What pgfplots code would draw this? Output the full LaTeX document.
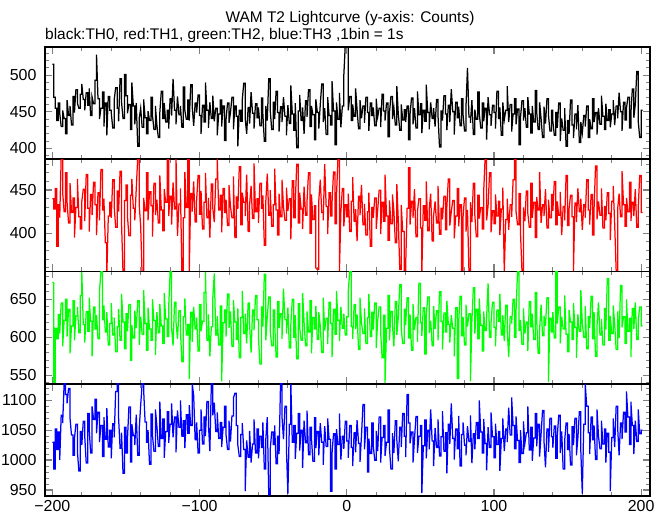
\documentclass[border=0pt]{standalone}
\usepackage{fontspec}
\setmainfont{Liberation Sans}
\usepackage{pgfplots}
\pgfplotsset{compat=1.18}
\usepackage{pgfplotstable}

\pgfplotstableread[row sep=\\]{y\\
515\\470\\455\\438\\462\\448\\430\\452\\441\\420\\466\\445\\458\\432\\471\\449\\480\\462\\455\\474\\
488\\467\\452\\476\\459\\482\\445\\470\\461\\493\\528\\468\\440\\455\\477\\430\\462\\418\\471\\452\\
449\\428\\466\\483\\455\\437\\495\\463\\441\\501\\472\\448\\460\\426\\490\\458\\433\\462\\403\\441\\
455\\429\\467\\442\\420\\451\\438\\470\\445\\426\\458\\432\\415\\449\\478\\441\\462\\436\\452\\427\\
468\\445\\495\\452\\433\\471\\446\\458\\429\\484\\452\\440\\466\\438\\487\\457\\431\\462\\449\\473\\
445\\420\\459\\436\\490\\452\\428\\463\\441\\472\\437\\455\\418\\447\\466\\430\\458\\411\\440\\462\\
435\\449\\470\\426\\458\\444\\403\\452\\437\\466\\489\\441\\420\\456\\434\\477\\448\\427\\461\\442\\
456\\431\\469\\447\\410\\458\\438\\495\\452\\426\\463\\440\\478\\449\\423\\457\\436\\470\\444\\418\\
459\\434\\486\\447\\425\\462\\401\\451\\473\\438\\456\\420\\465\\443\\480\\430\\458\\446\\412\\467\\
449\\427\\460\\488\\436\\455\\419\\470\\445\\432\\492\\451\\405\\463\\440\\476\\429\\458\\500\\542\\
548\\452\\471\\438\\460\\444\\482\\453\\427\\466\\441\\458\\435\\470\\449\\424\\462\\445\\456\\431\\
468\\443\\455\\429\\474\\451\\438\\462\\416\\449\\471\\440\\456\\432\\485\\447\\425\\460\\439\\453\\
436\\458\\412\\447\\469\\433\\455\\428\\478\\446\\461\\421\\452\\437\\487\\449\\426\\463\\441\\455\\
430\\467\\444\\402\\451\\438\\472\\447\\425\\459\\436\\481\\450\\419\\463\\442\\457\\431\\468\\446\\
424\\458\\510\\443\\435\\466\\419\\453\\440\\477\\448\\428\\462\\437\\455\\412\\470\\446\\431\\459\\
449\\427\\478\\441\\456\\418\\463\\439\\452\\485\\436\\460\\423\\447\\468\\433\\454\\405\\442\\465\\
438\\455\\429\\470\\447\\421\\458\\436\\479\\450\\426\\463\\441\\415\\457\\434\\468\\446\\424\\452\\
437\\418\\449\\428\\462\\410\\441\\425\\455\\403\\438\\420\\466\\432\\414\\447\\426\\459\\408\\436\\
421\\445\\430\\458\\415\\440\\427\\468\\436\\449\\419\\455\\433\\472\\444\\426\\461\\438\\453\\429\\
447\\466\\432\\458\\441\\476\\450\\424\\463\\439\\455\\470\\428\\448\\481\\442\\460\\505\\437\\415\\
452\\
}\thzero

\pgfplotstableread[row sep=\\]{y\\
440\\428\\452\\385\\433\\418\\488\\447\\425\\470\\436\\412\\458\\424\\441\\395\\430\\463\\419\\405\\
437\\451\\414\\468\\429\\402\\445\\421\\459\\433\\398\\447\\415\\474\\427\\440\\389\\352\\420\\436\\
418\\462\\431\\407\\449\\425\\472\\411\\354\\438\\456\\420\\397\\444\\463\\429\\415\\452\\488\\433\\
408\\350\\441\\426\\470\\415\\448\\432\\396\\458\\421\\439\\412\\467\\427\\403\\451\\436\\487\\420\\
443\\410\\459\\428\\488\\397\\434\\452\\353\\418\\471\\430\\488\\355\\446\\425\\460\\413\\438\\467\\
422\\449\\405\\436\\470\\418\\441\\395\\457\\429\\413\\463\\488\\427\\444\\401\\452\\424\\439\\409\\
456\\431\\418\\466\\395\\442\\428\\477\\410\\447\\436\\420\\468\\402\\433\\455\\417\\481\\425\\440\\
412\\458\\429\\444\\386\\437\\469\\421\\450\\408\\433\\475\\427\\398\\446\\419\\462\\431\\415\\453\\
426\\440\\393\\461\\418\\435\\480\\412\\447\\428\\405\\454\\421\\437\\470\\400\\445\\416\\432\\360\\
358\\438\\462\\424\\415\\480\\431\\399\\447\\420\\436\\471\\411\\443\\486\\355\\425\\452\\408\\433\\
419\\446\\402\\437\\465\\414\\428\\391\\443\\421\\456\\410\\434\\398\\425\\447\\385\\430\\418\\441\\
405\\427\\450\\399\\436\\414\\468\\420\\392\\438\\411\\445\\426\\389\\457\\415\\358\\433\\402\\356\\
362\\429\\476\\410\\437\\418\\451\\396\\425\\440\\406\\355\\432\\415\\460\\403\\428\\446\\391\\421\\
437\\412\\455\\399\\429\\416\\443\\404\\431\\463\\409\\425\\438\\394\\420\\452\\408\\433\\357\\419\\
441\\402\\427\\356\\436\\413\\458\\421\\396\\444\\417\\430\\405\\448\\488\\415\\432\\470\\401\\426\\
411\\445\\420\\437\\398\\428\\453\\355\\416\\440\\404\\433\\419\\462\\488\\425\\410\\446\\401\\357\\
430\\414\\449\\423\\407\\458\\418\\436\\395\\442\\427\\471\\412\\433\\420\\451\\406\\439\\418\\445\\
426\\460\\410\\437\\421\\448\\398\\431\\415\\467\\409\\428\\444\\419\\356\\435\\413\\452\\425\\440\\
404\\433\\418\\462\\427\\410\\445\\398\\429\\478\\416\\437\\421\\452\\406\\431\\415\\447\\423\\392\\
437\\455\\410\\357\\428\\446\\419\\472\\433\\408\\441\\425\\459\\414\\436\\420\\451\\407\\430\\467\\
424\\
}\thone

\pgfplotstableread[row sep=\\]{y\\
672\\540\\612\\598\\630\\605\\645\\588\\622\\650\\601\\637\\579\\615\\648\\596\\628\\640\\606\\655\\
686\\617\\593\\634\\608\\652\\621\\575\\640\\611\\629\\598\\660\\686\\623\\642\\607\\633\\590\\618\\
645\\603\\626\\581\\614\\637\\596\\657\\620\\585\\631\\608\\643\\570\\616\\599\\635\\612\\648\\590\\
627\\604\\662\\618\\583\\639\\611\\596\\650\\622\\577\\633\\606\\644\\615\\592\\658\\624\\601\\638\\
686\\612\\589\\646\\620\\598\\635\\609\\568\\627\\651\\603\\617\\545\\633\\594\\640\\611\\626\\582\\
643\\608\\621\\659\\686\\596\\630\\575\\614\\652\\684\\603\\628\\590\\641\\542\\619\\636\\601\\657\\
612\\634\\588\\649\\620\\597\\638\\573\\626\\661\\605\\631\\592\\645\\616\\580\\636\\609\\655\\623\\
600\\565\\640\\614\\683\\596\\627\\653\\608\\589\\636\\620\\574\\647\\612\\631\\598\\664\\623\\605\\
639\\586\\617\\650\\600\\629\\572\\644\\613\\596\\658\\620\\589\\634\\607\\648\\579\\626\\611\\641\\
597\\633\\615\\580\\652\\609\\625\\591\\646\\618\\574\\637\\604\\661\\622\\595\\640\\612\\631\\603\\
627\\660\\686\\614\\598\\643\\611\\630\\584\\652\\619\\605\\638\\592\\626\\657\\601\\633\\610\\645\\
586\\622\\640\\607\\573\\629\\540\\612\\655\\596\\634\\618\\588\\647\\603\\626\\669\\611\\592\\637\\
616\\652\\599\\630\\583\\644\\610\\626\\594\\671\\619\\602\\639\\578\\628\\653\\606\\622\\589\\641\\
611\\635\\596\\660\\621\\584\\632\\607\\648\\617\\593\\629\\612\\575\\639\\546\\620\\654\\602\\627\\
590\\643\\614\\631\\542\\622\\665\\605\\637\\598\\651\\616\\582\\634\\609\\626\\671\\600\\619\\646\\
613\\588\\636\\621\\657\\603\\629\\595\\642\\611\\574\\627\\618\\650\\600\\635\\686\\609\\623\\591\\
638\\605\\620\\582\\647\\614\\631\\597\\659\\623\\579\\610\\643\\602\\628\\615\\652\\541\\625\\607\\
633\\599\\686\\618\\640\\592\\627\\611\\655\\604\\581\\636\\620\\597\\645\\613\\573\\630\\608\\662\\
619\\600\\641\\585\\627\\612\\654\\598\\633\\575\\615\\646\\603\\624\\590\\638\\610\\677\\596\\628\\
605\\642\\617\\584\\634\\599\\668\\613\\627\\592\\650\\608\\625\\574\\638\\611\\646\\597\\622\\640\\
615\\
}\thtwo

\pgfplotstableread[row sep=\\]{y\\
1030\\985\\1052\\1018\\1047\\1000\\1075\\1062\\1128\\1110\\1095\\1120\\1070\\1042\\1008\\1036\\1060\\1015\\982\\1048\\
1025\\1065\\1040\\995\\1078\\1053\\1012\\1090\\1068\\1102\\1045\\1080\\1030\\1058\\1006\\1072\\1035\\1087\\1022\\1050\\
1003\\1061\\1038\\1115\\1128\\1070\\1020\\1046\\978\\1055\\1012\\1034\\1089\\997\\1060\\1041\\1025\\1076\\1008\\1052\\
1092\\1128\\1118\\1064\\1030\\1050\\993\\1077\\1042\\1015\\1085\\1057\\1023\\1098\\1036\\1069\\1004\\1048\\1081\\1029\\
1060\\1095\\1038\\1072\\1013\\1083\\1055\\1100\\1040\\1066\\1020\\1076\\1045\\1092\\1058\\1128\\1108\\1034\\1063\\1012\\
1050\\1085\\1027\\1072\\1040\\1098\\1061\\1015\\1128\\1075\\1096\\1048\\1080\\1036\\1063\\1022\\1055\\1090\\1042\\1018\\
1066\\1031\\1074\\1104\\1112\\1058\\1025\\1006\\1043\\1062\\1018\\948\\1033\\1005\\1049\\996\\1027\\1068\\1012\\1052\\
1003\\1040\\1021\\1063\\985\\1035\\1072\\942\\1018\\1047\\1026\\1058\\994\\1040\\1010\\1128\\1072\\1035\\1090\\1020\\
944\\1060\\1128\\1030\\1058\\1002\\1045\\1078\\1016\\1050\\987\\1066\\1029\\1083\\1009\\1055\\1037\\998\\1071\\1020\\
1048\\1008\\1062\\1030\\992\\1057\\1023\\1070\\1035\\948\\1012\\1044\\985\\1052\\1026\\1078\\1001\\1040\\1019\\1065\\
1032\\1004\\1058\\1021\\990\\1046\\1013\\1067\\1028\\997\\1041\\1093\\1018\\1055\\980\\1036\\1011\\1062\\1024\\1000\\
1049\\1015\\1072\\996\\1038\\1058\\1007\\1030\\1084\\1020\\985\\1045\\1012\\1066\\1034\\998\\1055\\1022\\1078\\1040\\
1005\\1110\\1062\\1028\\1047\\996\\1035\\1073\\1012\\1040\\1058\\945\\1024\\1067\\1003\\1050\\1018\\1085\\1032\\990\\
1054\\1021\\1068\\1007\\1039\\1082\\1015\\1046\\978\\1060\\1027\\1095\\1036\\1001\\1052\\1019\\1074\\990\\1043\\1063\\
1025\\1008\\1057\\1031\\1075\\995\\1044\\1018\\1063\\1036\\1100\\1047\\1012\\1069\\1028\\983\\1055\\1021\\1080\\1039\\
1004\\1061\\1026\\1048\\982\\1036\\1070\\1015\\1052\\1030\\1088\\1042\\1105\\1058\\1019\\1073\\1033\\996\\1050\\1011\\
1065\\1028\\1046\\1090\\1017\\1055\\999\\1037\\1078\\1023\\1060\\1006\\1044\\1083\\1031\\988\\1052\\1014\\1070\\1039\\
1021\\1057\\1003\\1040\\1075\\1012\\1048\\985\\1032\\1062\\1018\\1044\\992\\1056\\1025\\1070\\1008\\1037\\1081\\1015\\
944\\1060\\1128\\1090\\1046\\1010\\1072\\1034\\1058\\1001\\1085\\1040\\1019\\1066\\1027\\1052\\996\\1045\\1013\\948\\
1038\\1070\\1022\\1090\\1055\\1008\\1062\\1035\\1080\\1047\\1115\\1072\\1026\\1098\\1058\\1010\\1066\\1031\\1085\\1044\\
1050\\
}\ththree

% step version of a series: each value held over its 1 s bin (same values, repeated at both bin edges)
\newcommand\makestep[2]{%
  \pgfplotstablenew[
    create on use/sx/.style={create col/expr={floor((\pgfplotstablerow+1)/2)-200}},
    create on use/sy/.style={create col/assign/.code={%
      \pgfmathtruncatemacro\srcrow{floor(\pgfplotstablerow/2)}%
      \pgfplotstablegetelem{\srcrow}{y}\of#1%
      \pgfkeyslet{/pgfplots/table/create col/next content}\pgfplotsretval}},
    columns={sx,sy}]{802}#2}
\makestep{\thzero}{\thzerostep}
\makestep{\thone}{\thonestep}
\makestep{\thtwo}{\thtwostep}
\makestep{\ththree}{\ththreestep}

\definecolor{pgreen}{rgb}{0,1,0}

\begin{document}
\begin{tikzpicture}[x=1bp,y=1bp]
\path[use as bounding box] (0,0) rectangle (669,515);
\pgfplotsset{
  panel/.style={
    scale only axis, width=605bp, height=112.25bp,
    anchor=south west,
    xmin=-205, xmax=206,
    xtick={-200,-100,0,100,200},
    minor xtick={-180,-160,-140,-120,-80,-60,-40,-20,20,40,60,80,120,140,160,180},
    axis line style={line width=1.6bp},
    major tick style={line width=1.3bp},
    minor tick style={line width=1bp},
    major tick length=7bp, minor tick length=4bp,
    tick align=inside,
    xtick pos=both, ytick pos=both,
    /pgf/number format/assume math mode=true,
    /pgf/number format/1000 sep={},
    ticklabel style={font=\fontsize{16}{18}\selectfont},
    yticklabel style={xshift=-5bp},
    xticklabel style={yshift=-1bp},
    clip=true,
  },
  lc/.style={sharp plot, no markers, line width=1.25bp},
}
\begin{axis}[panel, at={(45bp,355.75bp)}, ymin=385.3, ymax=538.5,
  ytick={400,450,500}, minor ytick={390,400,...,530}, xticklabels={}]
\addplot[lc, draw=black] table[x=sx, y=sy]{\thzerostep};
\end{axis}
\begin{axis}[panel, at={(45bp,243.5bp)}, ymin=355.7, ymax=485.8,
  ytick={400,450}, minor ytick={360,370,...,480}, xticklabels={}]
\addplot[lc, draw=red] table[x=sx, y=sy]{\thonestep};
\end{axis}
\begin{axis}[panel, at={(45bp,131.25bp)}, ymin=539, ymax=686.5,
  ytick={550,600,650}, minor ytick={540,550,...,680}, xticklabels={}]
\addplot[lc, draw=pgreen] table[x=sx, y=sy]{\thtwostep};
\end{axis}
\begin{axis}[panel, at={(45bp,19bp)}, ymin=940, ymax=1127.8,
  ytick={950,1000,1050,1100}, minor ytick={940,950,...,1120},
  xticklabels={−200,−100,0,100,200}]
\addplot[lc, draw=blue] table[x=sx, y=sy]{\ththreestep};
\end{axis}
\node[font=\fontsize{15.5}{18}\selectfont] at (350,496) {WAM T2 Lightcurve (y-axis: Counts)};
\node[font=\fontsize{15.5}{18}\selectfont, anchor=west, inner sep=0pt] at (45,479) {black:TH0, red:TH1, green:TH2, blue:TH3 ,1bin = 1s};
\end{tikzpicture}
\end{document}
